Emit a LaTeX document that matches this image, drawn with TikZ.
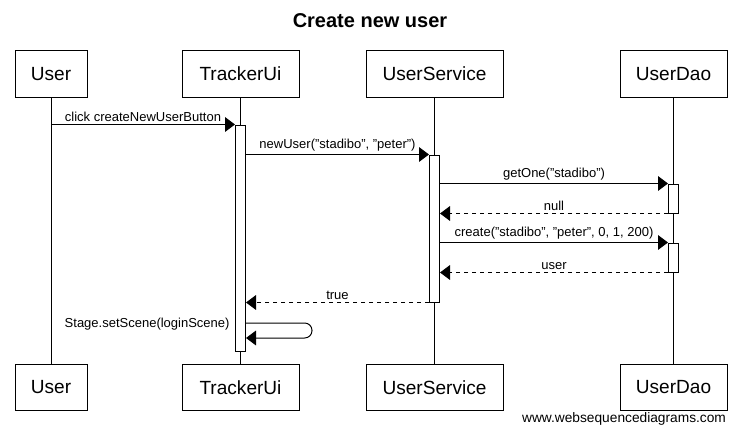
\documentclass[tikz,border=0pt]{standalone}
\usepackage{fontspec}
\setmainfont{Liberation Sans}
\usetikzlibrary{arrows.meta}
\begin{document}
\begin{tikzpicture}[x=0.75pt,y=-0.75pt,
  line width=0.75pt,
  part/.style={draw, fill=white, minimum height=34.5pt, inner sep=0pt, font=\fontsize{14.3pt}{16pt}\selectfont},
  act/.style={draw, fill=white, minimum width=7.5pt, inner sep=0pt},
  life/.style={draw, line width=0.75pt},
  msg/.style={draw, -{Triangle[length=7.5pt,width=11pt]}},
  ret/.style={msg, dash pattern=on 3pt off 3pt},
  lbl/.style={font=\fontsize{9.75pt}{11pt}\selectfont, inner sep=0pt}]
\useasboundingbox (0,0) rectangle (741,435);

\node[font=\bfseries\fontsize{15pt}{18pt}\selectfont] (title) at (370,21) {Create new user};

% participants top
\node[part, minimum width=54pt] (pU) at (51,74) {User};
\node[part, minimum width=87.75pt] (pT) at (240.5,74) {TrackerUi};
\node[part, minimum width=102.75pt] (pS) at (434.5,74) {UserService};
\node[part, minimum width=80.25pt] (pD) at (673.5,74) {UserDao};
% participants bottom
\node[part, minimum width=54pt] (qU) at (51,387.5) {User};
\node[part, minimum width=87.75pt] (qT) at (240.5,387.5) {TrackerUi};
\node[part, minimum width=102.75pt] (qS) at (434.5,387.5) {UserService};
\node[part, minimum width=80.25pt] (qD) at (673.5,387.5) {UserDao};

% lifelines
\draw[life] (pU.south) -- (qU.north);
\draw[life] (pT.south) -- (qT.north);
\draw[life] (pS.south) -- (qS.north);
\draw[life] (pD.south) -- (qD.north);

% activations
\node[act, minimum height=169.5pt] (a1) at (240.5,238) {};
\node[act, minimum height=110.25pt] (a2) at (434.5,228.5) {};
\node[act, minimum height=21.75pt] (a3) at (673.5,198.5) {};
\node[act, minimum height=21.75pt] (a4) at (673.5,257.5) {};

% messages
\coordinate (m1s) at (pU.south |- a1.north);
\draw[msg] (m1s) -- node[lbl, above=2pt] {click createNewUserButton} (a1.north west);
\draw[msg] (a1.east |- a2.north) -- node[lbl, above=2pt] {newUser("stadibo", "peter")} (a2.north west);
\draw[msg] (a2.east |- a3.north) -- node[lbl, above=2pt] {getOne("stadibo")} (a3.north west);
\draw[ret] (a3.south west) -- node[lbl, above=2pt] {null} (a2.east |- a3.south);
\draw[msg] (a2.east |- a4.north) -- node[lbl, above=2pt] {create("stadibo", "peter", 0, 1, 200)} (a4.north west);
\draw[ret] (a4.south west) -- node[lbl, above=2pt] {user} (a2.east |- a4.south);
\draw[ret] (a2.south west) -- node[lbl, above=2pt] {true} (a1.east |- a2.south);

% self message
\coordinate (s1) at (a1.east |- 0,323);
\coordinate (s2) at (312,338);
\coordinate (s3) at (a1.east |- 0,338);
\draw[msg, rounded corners=5.5pt] (s1) -| (s2) -- (s3);
\node[lbl, anchor=east] (l8) at (230,324) {Stage.setScene(loginScene)};

\node[font=\fontsize{10.3pt}{12pt}\selectfont, inner sep=0pt] (foot) at (624,419) {www.websequencediagrams.com};
\end{tikzpicture}
\end{document}
